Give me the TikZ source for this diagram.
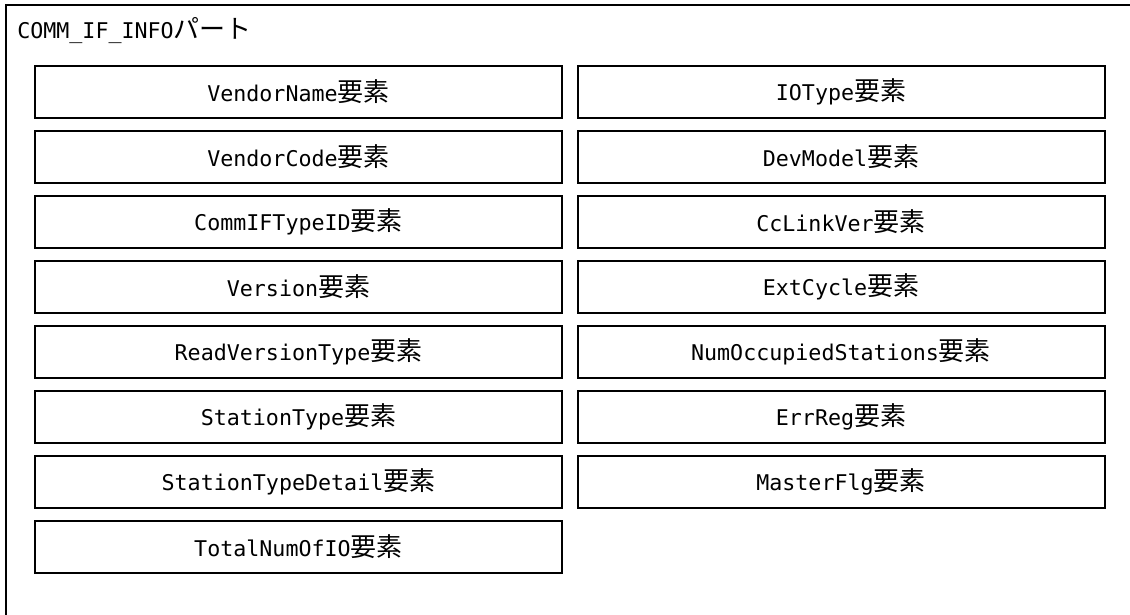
\documentclass[tikz,border=0pt]{standalone}
\usepackage{fontspec}
\setmonofont{DejaVu Sans Mono}
\newfontfamily\jpfont{Noto Sans CJK JP}
\newcommand{\lat}[1]{{\fontsize{16.25pt}{20pt}\ttfamily\selectfont #1}}
\newcommand{\jtx}[1]{{\fontsize{19.5pt}{20pt}\jpfont\selectfont #1}}
\newcommand{\elem}[1]{\lat{#1}\jtx{要素}}
\tikzset{
  elembox/.style={draw, line width=1.5pt, minimum width=395.25pt, minimum height=39pt, inner sep=0pt, anchor=center},
  frameline/.style={line width=1.5pt},
}
\begin{document}
\begin{tikzpicture}[x=0.75pt,y=-0.75pt]
\useasboundingbox (0,0) rectangle (1130,614);
\coordinate (fbl) at (6,616);
\coordinate (ftl) at (6,5);
\coordinate (ftr) at (1132,5);
\draw[frameline] (fbl) -- (ftl) -- (ftr);
\node[anchor=base west, inner sep=0pt] (title) at (17,38) {\lat{COMM\_IF\_INFO}\jtx{パート}};
% left column
\node[elembox] (l1) at (298.5,91.5) {\elem{VendorName}};
\node[elembox] (l2) at (298.5,156.5) {\elem{VendorCode}};
\node[elembox] (l3) at (298.5,221.5) {\elem{CommIFTypeID}};
\node[elembox] (l4) at (298.5,286.5) {\elem{Version}};
\node[elembox] (l5) at (298.5,351.5) {\elem{ReadVersionType}};
\node[elembox] (l6) at (298.5,416.5) {\elem{StationType}};
\node[elembox] (l7) at (298.5,481.5) {\elem{StationTypeDetail}};
\node[elembox] (l8) at (298.5,546.5) {\elem{TotalNumOfIO}};
% right column
\node[elembox] (r1) at (841,91.5) {\elem{IOType}};
\node[elembox] (r2) at (841,156.5) {\elem{DevModel}};
\node[elembox] (r3) at (841,221.5) {\elem{CcLinkVer}};
\node[elembox] (r4) at (841,286.5) {\elem{ExtCycle}};
\node[elembox] (r5) at (841,351.5) {\elem{NumOccupiedStations}};
\node[elembox] (r6) at (841,416.5) {\elem{ErrReg}};
\node[elembox] (r7) at (841,481.5) {\elem{MasterFlg}};
\end{tikzpicture}
\end{document}
